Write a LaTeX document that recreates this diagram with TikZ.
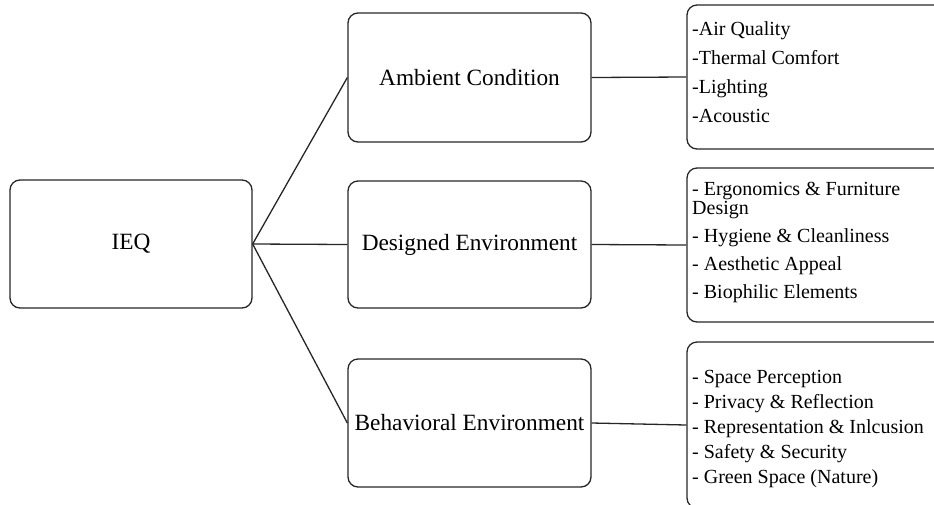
\documentclass[tikz,border=0pt]{standalone}
\usepackage{fontspec}
\setmainfont{Liberation Serif}
\begin{document}
\begin{tikzpicture}[x=1pt,y=-1pt,
  box/.style={draw=black!85, rounded corners=10pt, line width=1.3pt, inner sep=2pt},
  mainfont/.style={font=\fontsize{23.3}{27}\selectfont},
  rtext/.style={anchor=base west, align=left, inner sep=0pt},
  conn/.style={draw=black!85, line width=1.3pt}]
\path[use as bounding box] (0,0) rectangle (934,504);
\clip (0,0) rectangle (934,504);
% left box
\node[box, mainfont, minimum width=242pt, minimum height=128pt] (ieq) at (131,244) {IEQ};
% middle boxes
\node[box, mainfont, minimum width=243pt, minimum height=129pt] (amb) at (469.5,77.5) {Ambient Condition};
\node[box, mainfont, minimum width=243pt, minimum height=127pt] (des) at (469.5,244.5) {Designed Environment};
\node[box, mainfont, minimum width=243pt, minimum height=128pt] (beh) at (469.5,423) {Behavioral Environment};
% right boxes
\node[box, minimum width=258pt, minimum height=144pt] (r1) at (816,77) {};
\node[box, minimum width=258pt, minimum height=154pt] (r2) at (816,245) {};
\node[box, minimum width=258pt, minimum height=166pt] (r3) at (816,425) {};
% right texts (anchored at the baseline of their last line)
\node[rtext, font=\fontsize{20}{29}\selectfont] (t1) at (692,122)
  {-Air Quality\\-Thermal Comfort\\-Lighting\\-Acoustic};
\node[rtext, font=\fontsize{20}{19}\selectfont] (t2) at (692,298)
  {- Ergonomics \& Furniture\\Design\\[9pt]- Hygiene \& Cleanliness\\[9pt]- Aesthetic Appeal\\[9pt]- Biophilic Elements};
\node[rtext, font=\fontsize{20}{25}\selectfont] (t3) at (692,483)
  {- Space Perception\\- Privacy \& Reflection\\- Representation \& Inlcusion\\- Safety \& Security\\- Green Space (Nature)};
% connectors
\draw[conn] (ieq.east) -- (amb.west);
\draw[conn] (ieq.east) -- (des.west);
\draw[conn] (ieq.east) -- (beh.west);
\draw[conn] (amb.east) -- (r1.west);
\draw[conn] (des.east) -- (r2.west);
\draw[conn] (beh.east) -- (r3.west);
\end{tikzpicture}
\end{document}
